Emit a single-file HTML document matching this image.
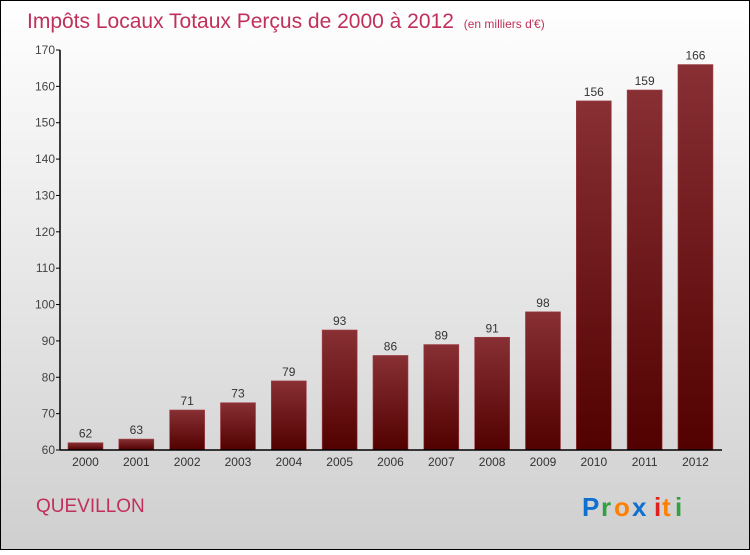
<!DOCTYPE html>
<html><head><meta charset="utf-8"><style>
body{margin:0;width:750px;height:550px;overflow:hidden;font-family:"Liberation Sans",sans-serif}
</style></head><body>
<svg width="750" height="550">
<defs>
<linearGradient id="bg" x1="0" y1="0" x2="0" y2="1"><stop offset="0" stop-color="#ffffff"/><stop offset="1" stop-color="#cfcfcf"/></linearGradient>
<linearGradient id="bar" x1="0" y1="0" x2="0" y2="1"><stop offset="0" stop-color="#883034"/><stop offset="1" stop-color="#520000"/></linearGradient>
</defs>
<rect x="0.5" y="0.5" width="749" height="549" fill="url(#bg)" stroke="#000"/>
<text x="27" y="28" font-size="21" fill="#c0305a">Impôts Locaux Totaux Perçus de 2000 à 2012 <tspan font-size="12" dx="4">(en milliers d'€)</tspan></text>
<g id="plot"></g>
<text x="36" y="512" font-size="19" fill="#c0305a">QUEVILLON</text>
<g font-size="26" font-weight="bold">
<text x="582" y="516" fill="#1070d0">P</text><text x="601" y="516" fill="#30a040">r</text><text x="614" y="516" fill="#ff8000">o</text><text x="632" y="516" fill="#1070d0">x</text><text x="654" y="516" fill="#e02020">i</text><text x="662" y="516" fill="#ff8000">t</text><text x="675" y="516" fill="#30a040">i</text>
</g>
</svg>
<script>
const years=["2000","2001","2002","2003","2004","2005","2006","2007","2008","2009","2010","2011","2012"];
const values=[62,63,71,73,79,93,86,89,91,98,156,159,166];
const ticks=[60,70,80,90,100,110,120,130,140,150,160,170];
const ns="http://www.w3.org/2000/svg";
const g=document.getElementById('plot');
const x0=60,x1=722,yb=450,yt=50,vmin=60,vmax=170;
const y=v=>yb-(v-vmin)/(vmax-vmin)*(yb-yt);
const step=50.83,bw=35;
const cx=i=>85.5+i*step;
function mk(t,a){const e=document.createElementNS(ns,t);for(const k in a)e.setAttribute(k,a[k]);g.appendChild(e);return e;}
ticks.forEach(t=>{
 const l=mk('line',{x1:x0-4,x2:x0,y1:y(t),y2:y(t),stroke:'#000'});
 
 
 const tx=mk('text',{x:x0-5,y:y(t)+4,'font-size':12,fill:'#444','text-anchor':'end'});
 tx.textContent=t;
 
 
});
values.forEach((v,i)=>{
 const r=mk('rect',{x:cx(i)-bw/2,y:y(v),width:bw,height:yb-y(v),fill:'url(#bar)',stroke:'#a04048','stroke-width':0.6});
 
 
 const t=mk('text',{x:cx(i),y:y(v)-5,'font-size':12,fill:'#333','text-anchor':'middle'});
 t.textContent=v;
 
 
 const xl=mk('text',{x:cx(i),y:466,'font-size':12,fill:'#333','text-anchor':'middle'});
 xl.textContent=years[i];
 
 
});
const ay=mk('line',{x1:x0,x2:x0,y1:yt,y2:yb,stroke:'#000','stroke-width':1.5});


const ax=mk('line',{x1:x0,x2:x1,y1:yb,y2:yb,stroke:'#000','stroke-width':1.5});


</script>
</body></html>
